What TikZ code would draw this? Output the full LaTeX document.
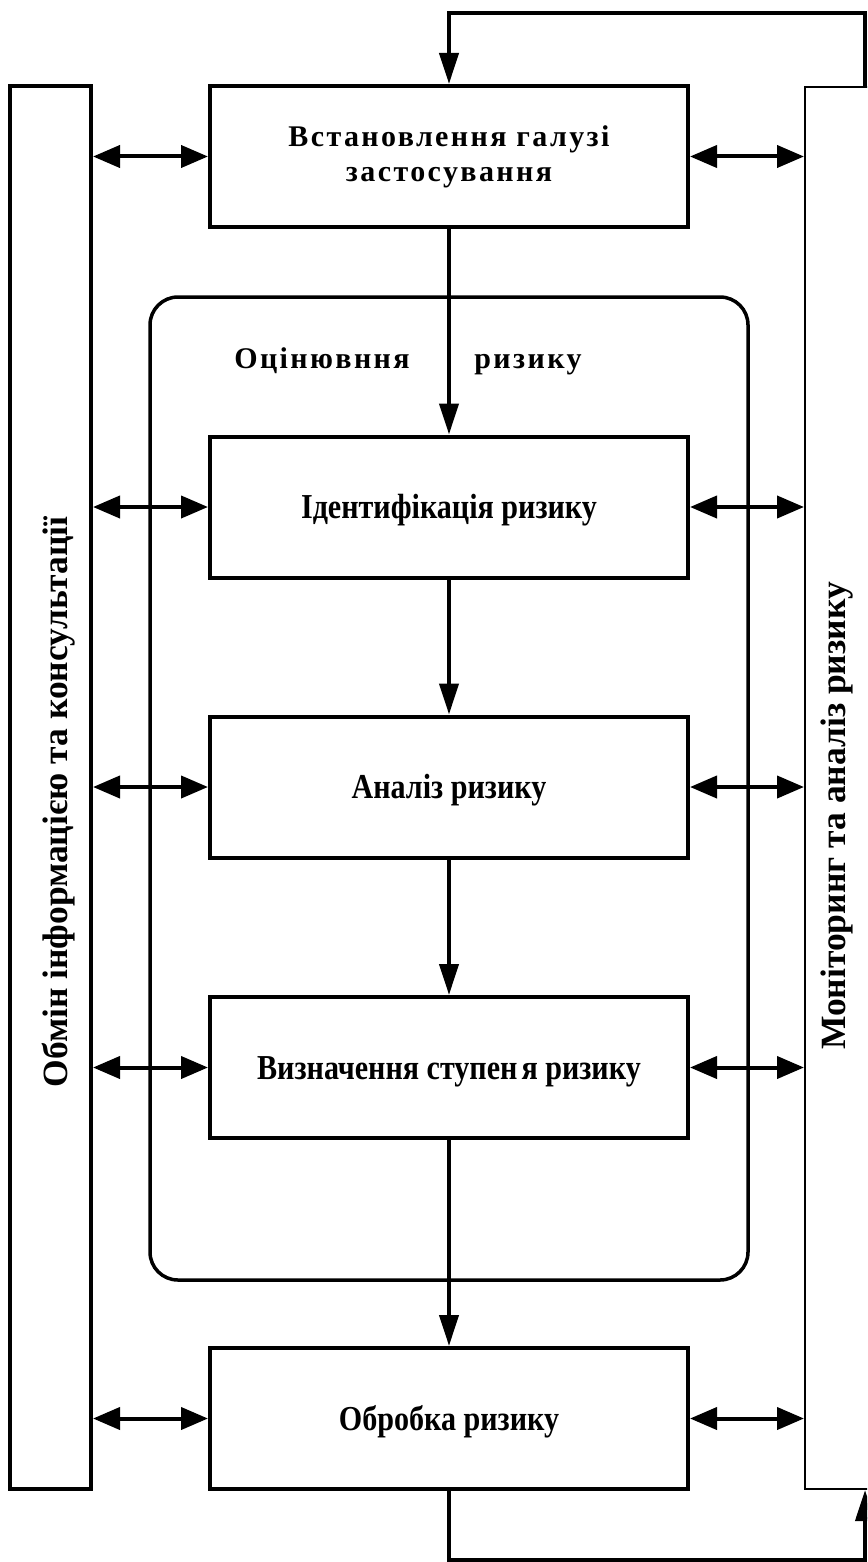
\documentclass[tikz,border=0pt]{standalone}
\usepackage{fontspec}
\setmainfont{Liberation Serif}
\newfontfamily\condfont[FakeStretch=0.86]{Liberation Serif}
\newfontfamily\widefont[LetterSpace=8]{Liberation Serif}
\usetikzlibrary{arrows.meta}
\begin{document}
\begin{tikzpicture}[x=1pt,y=-1pt,
  stagebox/.style={draw,line width=4pt,minimum width=478pt,minimum height=141pt,inner sep=0pt,
    font=\condfont\bfseries\fontsize{35}{40}\selectfont,text height=23pt,text depth=0pt},
  sidepanel/.style={draw,inner sep=0pt,minimum width=81pt},
  sidetext/.style={rotate=90,font=\bfseries\fontsize{35.5}{40}\selectfont,inner sep=0pt},
  wide/.style={font=\widefont\bfseries\fontsize{30}{35}\selectfont,inner sep=0pt},
  conn/.style={line width=4pt},
  downarrow/.style={conn,-{Triangle[length=31pt,width=19pt]}},
  twoway/.style={conn,{Triangle[length=27pt,width=22pt]}-{Triangle[length=27pt,width=22pt]}}]
\clip (0,0) rectangle (867,1562);

% outer frame of the assessment stage
\node[draw,line width=3.5pt,rounded corners=28pt,minimum width=598pt,minimum height=983pt] (assess) at (449,788.5) {};
\node[wide,anchor=base] (assessA) at (322,368) {Оцінювння};
\node[wide,anchor=base] (assessB) at (528,368) {ризику};

% side panels
\node[sidepanel,line width=4pt,minimum height=1403pt] (info) at (50.5,787.5) {};
\node[sidetext] (infotext) at (59,802) {Обмін інформацією та консультації};
\node[sidepanel,line width=2pt,minimum width=95pt,minimum height=1402pt] (monitor) at (852.5,788) {};
\node[sidetext] (montext) at (837,816) {Моніторинг та аналіз ризику};

% process stages
\node[stagebox,text height=,text depth=,align=center,font=\widefont\bfseries\fontsize{30}{35}\selectfont] (est) at (449,156.5) {Встановлення галузі\\застосування};
\node[stagebox] (ident) at (449,507) {Ідентифікація ризику};
\node[stagebox] (anal) at (449,787) {Аналіз ризику};
\node[stagebox] (evalr) at (449,1067.5) {Визначення ступен\hspace{4pt}я ризику};
\node[stagebox] (treat) at (449,1418.5) {Обробка ризику};

% main flow
\draw[downarrow] (est.south) -- (ident.north);
\draw[downarrow] (ident.south) -- (anal.north);
\draw[downarrow] (anal.south) -- (evalr.north);
\draw[downarrow] (evalr.south) -- (treat.north);

% exchange with the side panels
\foreach \s in {est,ident,anal,evalr,treat}{
  \draw[twoway] (info.east |- \s) -- (\s.west);
  \draw[twoway] (\s.east) -- (\s -| monitor.west);
}

% feedback loops
\coordinate (fbtop) at (865,13);
\coordinate (fbbot) at (865,1560);
\draw[conn,-{Triangle[length=31pt,width=19pt]}] (monitor.north -| fbtop) -- (fbtop) -| (est.north);
\draw[conn,-{Triangle[length=31pt,width=19pt]}] (treat.south) |- (fbbot) -- (fbbot |- monitor.south);
\end{tikzpicture}
\end{document}
